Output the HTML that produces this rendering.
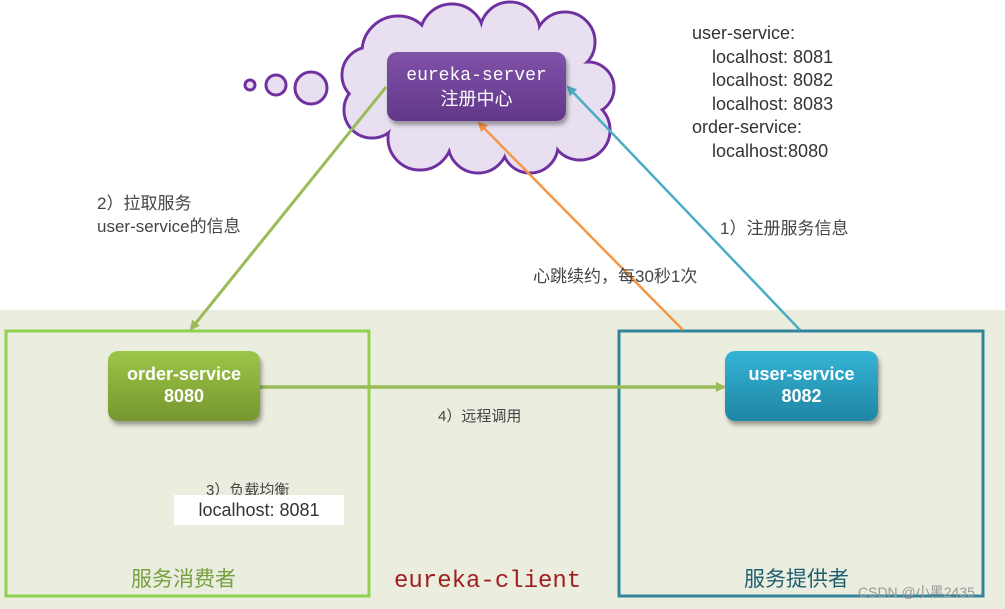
<!DOCTYPE html>
<html><head><meta charset="utf-8"><style>
body{margin:0;width:1005px;height:609px;overflow:hidden;background:#fff;font-family:"Liberation Sans","Noto Sans CJK SC",sans-serif;position:relative}
.a{position:absolute}
.t{color:#444;font-size:17px}
.node{position:absolute;border-radius:10px;color:#fff;text-align:center;font-size:18px;line-height:22px;box-shadow:2px 4px 4px rgba(0,0,0,.35)}
</style></head><body>
<div class="a" style="left:0;top:310px;width:1005px;height:299px;background:#ebeedf"></div>
<svg class="a" style="left:0;top:0" width="1005" height="609">
<defs>
<marker id="mg" markerWidth="10" markerHeight="10" refX="8" refY="5" orient="auto" markerUnits="userSpaceOnUse"><path d="M0,0 L10,5 L0,10 z" fill="#9bbb59"/></marker>
<marker id="mo" markerWidth="10" markerHeight="10" refX="8" refY="5" orient="auto" markerUnits="userSpaceOnUse"><path d="M0,0 L10,5 L0,10 z" fill="#f79646"/></marker>
<marker id="mb" markerWidth="10" markerHeight="10" refX="8" refY="5" orient="auto" markerUnits="userSpaceOnUse"><path d="M0,0 L10,5 L0,10 z" fill="#4bacc6"/></marker>
</defs>
<g fill="#e8e0f0" stroke="#7030a0" stroke-width="3">
<circle cx="250" cy="85" r="5"/><circle cx="276" cy="85" r="10"/><circle cx="311" cy="88" r="16"/>
<circle cx="398" cy="52" r="36"/><circle cx="452" cy="36" r="32"/><circle cx="510" cy="32" r="30"/><circle cx="565" cy="42" r="30"/><circle cx="588" cy="88" r="26"/><circle cx="580" cy="130" r="30"/><circle cx="530" cy="145" r="28"/><circle cx="478" cy="143" r="30"/><circle cx="420" cy="138" r="32"/><circle cx="372" cy="110" r="28"/><circle cx="370" cy="75" r="28"/>
</g>
<g fill="#e8e0f0">
<circle cx="398" cy="52" r="34.5"/><circle cx="452" cy="36" r="30.5"/><circle cx="510" cy="32" r="28.5"/><circle cx="565" cy="42" r="28.5"/><circle cx="588" cy="88" r="24.5"/><circle cx="580" cy="130" r="28.5"/><circle cx="530" cy="145" r="26.5"/><circle cx="478" cy="143" r="28.5"/><circle cx="420" cy="138" r="30.5"/><circle cx="372" cy="110" r="26.5"/><circle cx="370" cy="75" r="26.5"/>
<ellipse cx="478" cy="90" rx="110" ry="60"/>
</g>
<rect x="6" y="331" width="363" height="265" fill="none" stroke="#92d050" stroke-width="3"/>
<rect x="619" y="331" width="364" height="265" fill="none" stroke="#31849b" stroke-width="3"/>
<line x1="386" y1="87" x2="191" y2="329" stroke="#9bbb59" stroke-width="3" marker-end="url(#mg)"/>
<line x1="683" y1="330" x2="479" y2="123" stroke="#f79646" stroke-width="2.5" marker-end="url(#mo)"/>
<line x1="800" y1="330" x2="568" y2="87" stroke="#4bacc6" stroke-width="2.5" marker-end="url(#mb)"/>
<line x1="258" y1="387" x2="724" y2="387" stroke="#9bbb59" stroke-width="3.5" marker-end="url(#mg)"/>
</svg>
<div class="node" style="left:387px;top:52px;width:179px;height:69px;background:linear-gradient(#8052a8,#62388a);font-size:18px;line-height:23px;padding-top:11px;box-sizing:border-box"><span style="font-family:'Liberation Mono',monospace;font-size:18px">eureka-server</span><br>注册中心</div>
<div class="node" style="left:108px;top:351px;width:152px;height:70px;background:linear-gradient(#9cc648,#76962e);padding-top:12px;box-sizing:border-box;font-weight:600">order-service<br>8080</div>
<div class="node" style="left:725px;top:351px;width:153px;height:70px;background:linear-gradient(#35b4d6,#1f86a3);padding-top:12px;box-sizing:border-box;font-weight:600">user-service<br>8082</div>
<div class="a t" style="left:692px;top:22px;line-height:23.5px;color:#333;font-size:18px">user-service:<br>&nbsp;&nbsp;&nbsp;&nbsp;localhost: 8081<br>&nbsp;&nbsp;&nbsp;&nbsp;localhost: 8082<br>&nbsp;&nbsp;&nbsp;&nbsp;localhost: 8083<br>order-service:<br>&nbsp;&nbsp;&nbsp;&nbsp;localhost:8080</div>
<div class="a t" style="left:97px;top:192px;line-height:23px">2）拉取服务<br>user-service的信息</div>
<div class="a t" style="left:720px;top:214px">1）注册服务信息</div>
<div class="a t" style="left:533px;top:262px">心跳续约，每30秒1次</div>
<div class="a t" style="left:438px;top:405px;font-size:15px">4）远程调用</div>
<div class="a t" style="left:206px;top:479px;font-size:15px">3）负载均衡</div>
<div class="a" style="left:174px;top:495px;width:170px;height:30px;background:#fff;color:#333;font-size:18px;line-height:30px;text-align:center">localhost: 8081</div>
<div class="a" style="left:131px;top:563px;font-size:21px;color:#77a040">服务消费者</div>
<div class="a" style="left:744px;top:563px;font-size:21px;color:#1f5f70">服务提供者</div>
<div class="a" style="left:394px;top:568px;font-size:24px;color:#a02020;font-family:'Liberation Mono',monospace">eureka-client</div>
<div class="a" style="left:858px;top:582px;font-size:14px;color:#999">CSDN @小黑2435</div>
</body></html>
